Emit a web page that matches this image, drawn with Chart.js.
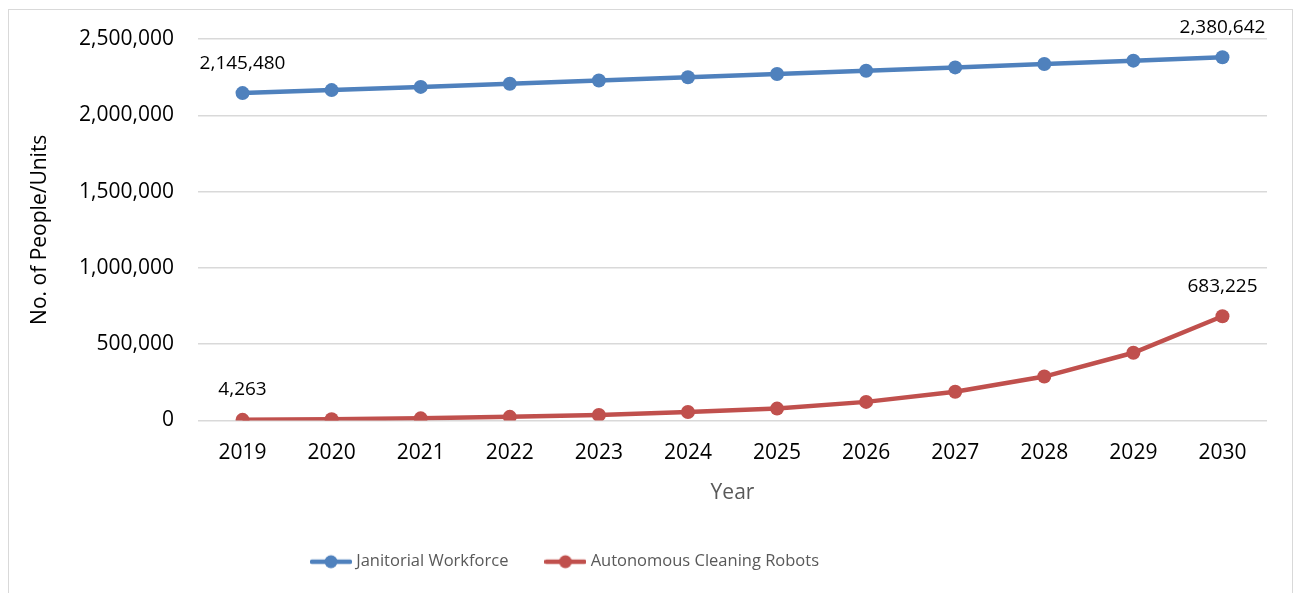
<!DOCTYPE html>
<html>
<head>
<meta charset="utf-8">
<script src="https://cdn.jsdelivr.net/npm/chart.js@4.4.1/dist/chart.umd.min.js"></script>
<style>
  body { margin: 0; background: #fff; }
  #frame { position: absolute; left: 8px; top: 9px; width: 1283px; height: 600px; border: 1px solid #d9d9d9; }
  #chart { position: absolute; left: 0; top: 0; }
</style>
</head>
<body>
<div id="frame"></div>
<canvas id="chart" width="1301" height="593"></canvas>
<script>
// Janitorial workforce vs autonomous cleaning robots, 2019-2030

const years = ['2019', '2020', '2021', '2022', '2023', '2024', '2025', '2026', '2027', '2028', '2029', '2030'];
const workforce = [2145480, 2165000, 2186000, 2207000, 2228000, 2249000, 2271000, 2292000, 2314000, 2336000, 2358000, 2380642];
const robots = [4263, 8000, 14000, 24000, 36000, 56000, 78000, 122000, 188000, 288000, 444000, 683225];
const yTicks = [0, 500000, 1000000, 1500000, 2000000, 2500000];

const BLUE = '#4f81bd';
const RED = '#c0504d';
const FONT = "'Open Sans', sans-serif";

// legend marker: a short line with a dot in the middle
function legendMarker(color) {
    const c = document.createElement('canvas');
    c.width = 42;
    c.height = 16;
    const g = c.getContext('2d');
    g.strokeStyle = color;
    g.lineWidth = 4.5;
    g.lineCap = 'round';
    g.beginPath();
    g.moveTo(2, 8);
    g.lineTo(40, 8);
    g.stroke();
    g.fillStyle = color;
    g.beginPath();
    g.arc(21, 8, 6.5, 0, Math.PI * 2);
    g.fill();
    return c;
}

// labels on first and last point of each series
const endLabels = {
    id: 'endLabels',
    afterDatasetsDraw(chart) {
        const ctx = chart.ctx;
        ctx.save();
        ctx.font = '19px ' + FONT;
        ctx.fillStyle = '#000';
        ctx.textAlign = 'center';
        ctx.textBaseline = 'middle';
        chart.data.datasets.forEach((ds, di) => {
            const meta = chart.getDatasetMeta(di);
            [0, ds.data.length - 1].forEach(i => {
                const p = meta.data[i];
                ctx.fillText(ds.data[i].toLocaleString('en-US'), p.x, p.y - 30);
            });
        });
        ctx.restore();
    }
};

// the legend sits left of centre in the original
const legendShift = {
    id: 'legendShift',
    afterLayout(chart) {
        chart.legend.left -= 72;
        chart.legend.right -= 72;
    }
};

const ctx = document.getElementById('chart').getContext('2d');
new Chart(ctx, {
    type: 'line',
    data: {
        labels: years,
        datasets: [
            {
                label: 'Janitorial Workforce',
                data: workforce,
                borderColor: BLUE,
                backgroundColor: BLUE,
                borderWidth: 4.5,
                pointRadius: 7,
                pointHoverRadius: 7,
                pointBorderWidth: 0,
                pointStyle: 'circle',
                tension: 0
            },
            {
                label: 'Autonomous Cleaning Robots',
                data: robots,
                borderColor: RED,
                backgroundColor: RED,
                borderWidth: 4.5,
                pointRadius: 7,
                pointHoverRadius: 7,
                pointBorderWidth: 0,
                pointStyle: 'circle',
                tension: 0
            }
        ]
    },
    options: {
        responsive: false,
        animation: false,
        layout: {
            padding: { left: 10, right: 34, top: 39, bottom: 13 }
        },
        plugins: {
            tooltip: { enabled: false },
            legend: {
                position: 'bottom',
                labels: {
                    usePointStyle: true,
                    pointStyleWidth: 34,
                    padding: 40,
                    color: '#595959',
                    font: { family: FONT, size: 16.5 },
                    generateLabels(chart) {
                        return chart.data.datasets.map((ds, i) => ({
                            text: ds.label,
                            fillStyle: ds.borderColor,
                            strokeStyle: ds.borderColor,
                            fontColor: '#595959',
                            pointStyle: legendMarker(ds.borderColor),
                            lineWidth: 0,
                            hidden: false,
                            datasetIndex: i
                        }));
                    }
                }
            }
        },
        scales: {
            x: {
                offset: true,
                grid: { display: false },
                border: { display: false },
                ticks: {
                    color: '#000',
                    padding: 12,
                    font: { family: FONT, size: 21 }
                },
                title: {
                    display: true,
                    text: 'Year',
                    color: '#595959',
                    font: { family: FONT, size: 21 },
                    padding: { top: 4, bottom: 8 }
                },
                afterFit(scale) {
                    scale.height = 93;
                }
            },
            y: {
                min: 0,
                max: 2500000,
                afterBuildTicks(scale) {
                    scale.ticks = yTicks.map(v => ({ value: v }));
                },
                grid: {
                    color: '#d9d9d9',
                    lineWidth: 1.5,
                    drawTicks: false
                },
                border: { display: false },
                ticks: {
                    color: '#000',
                    padding: 24,
                    font: { family: FONT, size: 21 },
                    callback: v => v.toLocaleString('en-US')
                },
                title: {
                    display: true,
                    text: 'No. of People/Units',
                    color: '#000',
                    font: { family: FONT, size: 21 },
                    padding: { top: 17 }
                },
                afterFit(scale) {
                    scale.width = 188;
                }
            }
        }
    },
    plugins: [endLabels, legendShift]
});
</script>
</body>
</html>
